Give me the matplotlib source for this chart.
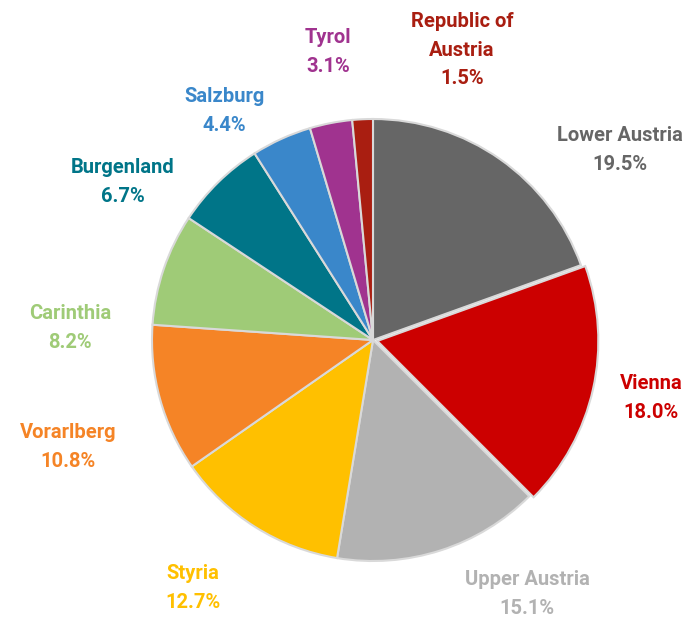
import matplotlib
matplotlib.use("Agg")
import matplotlib.pyplot as plt

# regions and shares (%)
regions = ["Lower Austria", "Vienna", "Upper Austria", "Styria", "Vorarlberg",
           "Carinthia", "Burgenland", "Salzburg", "Tyrol", "Republic of\nAustria"]
shares = [19.5, 18.0, 15.1, 12.7, 10.8, 8.2, 6.7, 4.4, 3.1, 1.5]
colors = ["#666666", "#CC0000", "#B2B2B2", "#FFC000", "#F58426",
          "#9FCB77", "#007588", "#3A87CA", "#A0338F", "#A91E11"]
# label positions in units of pie radius
label_pos = [(1.118, 0.86), (1.258, -0.262), (0.697, -1.149), (-0.814, -1.122),
             (-1.38, -0.484), (-1.371, 0.054), (-1.131, 0.715), (-0.674, 1.036),
             (-0.204, 1.303), (0.403, 1.312)]
explode = [0, 0.02, 0, 0, 0, 0, 0, 0, 0, 0]

plt.rcParams['font.family'] = ['Roboto', 'DejaVu Sans']

fig = plt.figure(figsize=(6.95, 6.17), dpi=100)
ax = fig.add_axes([0, 0, 1, 1])
ax.pie(shares, colors=colors, startangle=90, counterclock=False, radius=1,
       explode=explode,
       wedgeprops=dict(edgecolor="#D9D9D9", linewidth=1.5))
ax.set_xlim(-373 / 221, (695 - 373) / 221)
ax.set_ylim(-(617 - 340) / 221, 340 / 221)
ax.set_aspect("auto")
ax.axis("off")

for name, val, c, (x, y) in zip(regions, shares, colors, label_pos):
    ax.text(x, y, f"{name}\n{val:.1f}%", color=c, fontsize=14.5, fontweight="bold",
            ha="center", va="center", linespacing=1.65)

fig.savefig("out.png", dpi=100)
